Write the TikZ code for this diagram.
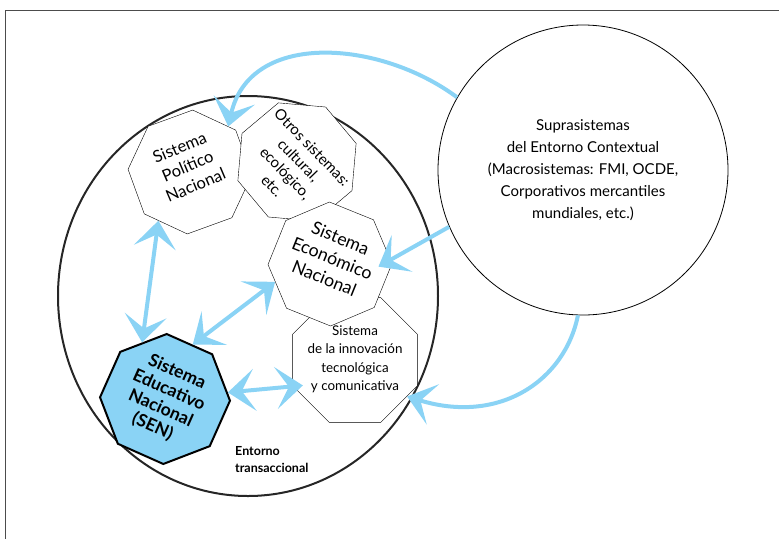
\documentclass[tikz,border=0pt]{standalone}
\usepackage{fontspec}
\setmainfont{Lato}
\usetikzlibrary{shapes.geometric,arrows.meta}
\definecolor{celeste}{RGB}{138,211,245}
% text that does not widen the octagon
\newcommand{\octtext}[2][0pt]{\makebox[0pt]{\smash{\raisebox{#1}{\begin{tabular}{@{}c@{}}#2\end{tabular}}}}}
\tikzset{
  octa/.style={regular polygon, regular polygon sides=8, draw, fill=white, inner sep=0pt},
  flecha/.style={draw=celeste, line width=4pt, -{Stealth[length=27pt,width=42pt,inset=13pt]}},
  dflecha/.style={draw=celeste, line width=4pt, {Stealth[length=27pt,width=42pt,inset=13pt]}-{Stealth[length=27pt,width=42pt,inset=13pt]}}
}
\begin{document}
\begin{tikzpicture}[x=1pt,y=1pt]
  \useasboundingbox (0,0) rectangle (779,-539);
  \draw[black!70, line width=0.8pt] (779,-10) -- (5,-10) -- (5,-539);
  \draw[line width=2pt, black!85] (248,-296) ellipse [x radius=190pt, y radius=200pt];
  % suprasistemas
  \node[circle, draw, line width=0.8pt, minimum size=290pt, inner sep=0pt, align=center, font=\fontsize{15}{22}\selectfont] (sup) at (583,-170) {Suprasistemas\\del Entorno Contextual\\(Macrosistemas: FMI, OCDE,\\Corporativos mercantiles\\mundiales, etc.)};
  % entorno transaccional
  \node[octa, minimum size=124pt, rotate=23, shape border rotate=-3, font=\fontsize{16.5}{20.5}\selectfont] (pol) at (190,-172) {\octtext{Sistema\\Político\\Nacional}};
  \node[octa, minimum size=124pt, rotate=-46, shape border rotate=41, font=\fontsize{15}{18.5}\selectfont] (otros) at (297,-162) {\octtext[-12pt]{Otros sistemas:\\cultural,\\ecológico,\\etc.}};
  \node[octa, minimum size=135pt, font=\fontsize{13.4}{18.3}\selectfont] (innov) at (355,-360) {\octtext[-3pt]{Sistema\\de la innovación\\tecnológica\\y comunicativa}};
  \node[octa, minimum size=124pt, rotate=-22, font=\fontsize{17.7}{21.5}\selectfont] (econ) at (330,-264) {\octtext{Sistema\\Económico\\Nacional}};
  \node[octa, minimum size=130pt, rotate=-24, fill=celeste, line width=2pt, font=\bfseries\fontsize{17.5}{20}\selectfont] (sen) at (165,-399) {\octtext[-6pt]{Sistema\\Educativo\\Nacional\\(SEN)}};
  \node[anchor=north west, inner sep=0pt, align=left, font=\bfseries\fontsize{12.5}{17}\selectfont] (ent) at (235,-446) {Entorno\\transaccional};
  % flechas
  \draw[flecha] (sup.150) .. controls (380,-40) and (250,-30) .. (pol.27);
  \draw[flecha, shorten >=-14pt] (sup.203) -- (econ.26);
  \draw[flecha] (sup.268) .. controls (565,-380) and (500,-425) .. (innov.-35);
  \draw[dflecha] (pol.214) -- (sen.136);
  \draw[dflecha] (econ.220) -- (sen.87);
  \draw[dflecha, shorten >=-10pt] (sen.30) -- (innov.203);
\end{tikzpicture}
\end{document}
